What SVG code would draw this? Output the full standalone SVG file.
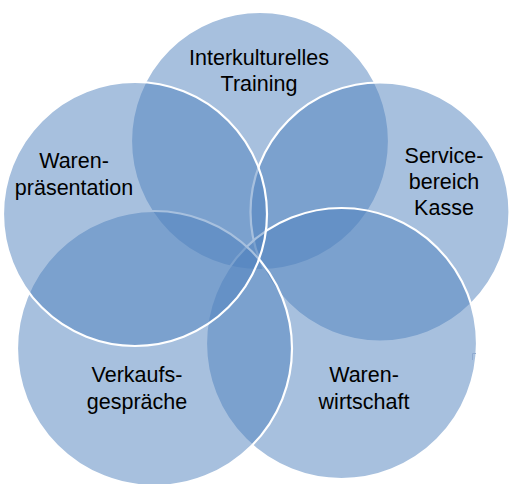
<svg xmlns="http://www.w3.org/2000/svg" width="509" height="484" viewBox="0 0 509 484">
<style>
.c{fill:#4F81BD;fill-opacity:0.5;stroke:#FFFFFF;stroke-width:2.2}
.t{font-family:"Liberation Sans",Arial,sans-serif;font-size:21.5px;fill:#000000;text-anchor:middle}
</style>
<rect width="509" height="484" fill="#FFFFFF"/>
<g id="node-interkulturelles-training">
<circle class="c" cx="260" cy="141" r="129"/>
<text class="t" x="259" y="65">Interkulturelles</text>
<text class="t" x="259" y="91">Training</text>
</g>
<g id="node-servicebereich-kasse">
<circle class="c" cx="380" cy="212" r="129.5"/>
<text class="t" x="444" y="163">Service-</text>
<text class="t" x="444" y="189">bereich</text>
<text class="t" x="444" y="215">Kasse</text>
</g>
<g id="node-warenwirtschaft">
<circle class="c" cx="341.5" cy="343.5" r="135.5"/>
<text class="t" x="364" y="382">Waren-</text>
<text class="t" x="364" y="409">wirtschaft</text>
</g>
<g id="node-verkaufsgespraeche">
<circle class="c" cx="154.5" cy="348.5" r="137.5"/>
<text class="t" x="137" y="382">Verkaufs-</text>
<text class="t" x="137" y="409">gespräche</text>
</g>
<g id="node-warenpraesentation">
<circle class="c" cx="135" cy="214" r="132"/>
<text class="t" x="74" y="168">Waren-</text>
<text class="t" x="74" y="195">präsentation</text>
</g>
<g id="connectors"/>
<path d="M472.5 360 V353.5 H476" fill="none" stroke="#8FAAD0" stroke-width="1"/>
</svg>
